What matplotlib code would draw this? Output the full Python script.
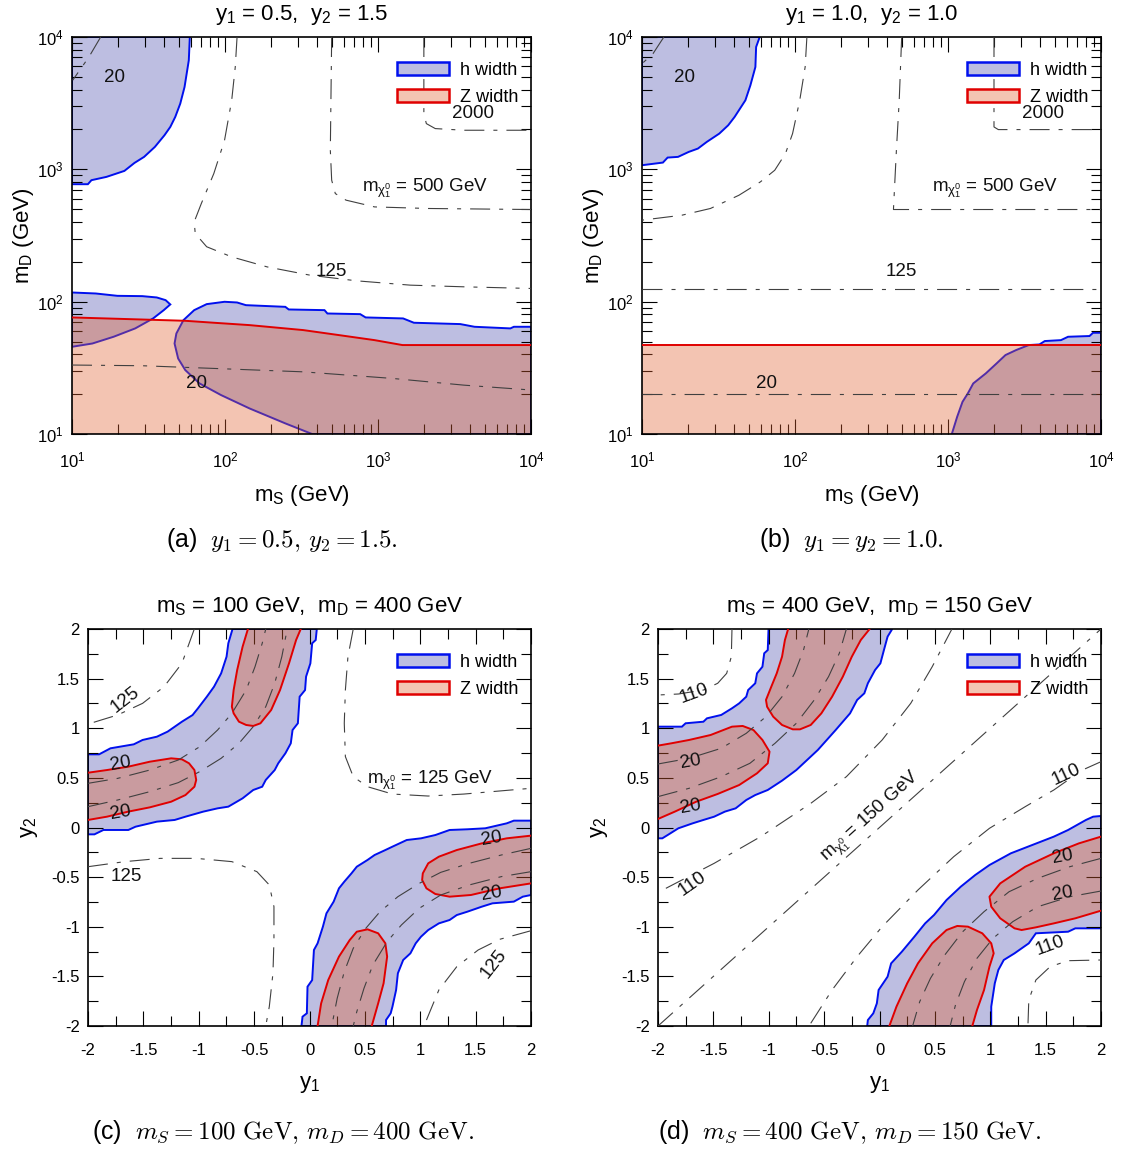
import numpy as np
import matplotlib
matplotlib.use("Agg")
import matplotlib.pyplot as plt
from matplotlib.patches import Patch
from matplotlib.ticker import FixedLocator, NullFormatter, FixedFormatter, MultipleLocator

plt.rcParams['font.family'] = ['Liberation Sans', 'DejaVu Sans']
plt.rcParams['mathtext.fontset'] = 'cm'
plt.rcParams['axes.unicode_minus'] = False
plt.rcParams['lines.scale_dashes'] = False

# ---------------- colours / styles ----------------
BLUE_FILL = '#bdbee1'
BLUE_EDGE = '#0010ee'
RED_FILL = (223 / 255, 96 / 255, 47 / 255)
RED_ALPHA = 0.37
RED_EDGE = '#e00000'
RED_LEG = '#f3c4b2'
CONT_COLOR = '#404040'
DASH = (0, (14.4, 6.5, 2.9, 6.5))

# ================= panel (a): y1=0.5, y2=1.5 =================
a_h1_x = [58.9, 58.0, 54.4, 51.0, 47.3, 43.9, 40.2, 34.8, 29.6, 25.6, 22.0, 16.8, 13.4, 12.7, 10]
a_h1_y = [1e4, 6668, 4190, 3138, 2489, 2091, 1809, 1477, 1242, 1118, 973, 877, 828, 772, 772]
a_h2_x = [10, 14.3, 19.8, 28.8, 35.8, 40.9, 43.9, 39.8, 33.9, 25.9, 18.7, 13.6, 10]
a_h2_y = [117.3, 115.3, 110.7, 110.1, 107.6, 102.7, 95.3, 86.3, 74.7, 62.8, 54.3, 48.3, 45.6]
a_h3_x = [370.7, 247.8, 144.7, 94.1, 68.2, 55.0, 49.4, 46.8, 48.1, 53.5, 62.9, 75.9, 99.3, 119.9,
          137, 247.8, 261, 447, 467, 765, 830, 1459, 1716, 3451, 4276, 7328, 7730, 1e4]
a_h3_y = [10, 12.03, 15.6, 19.7, 24.1, 30.4, 37.2, 48.3, 57.5, 72.5, 86.3, 95.8, 99.8, 98.6,
          94.1, 91.4, 87.3, 86.3, 81.4, 80.5, 76.0, 74.7, 69.3, 67.7, 64.6, 62.8, 64.6, 64.6]
a_z_x = [10, 55, 84.5, 144.7, 324, 555, 950, 1444, 1e4]
a_z_y = [76, 71.7, 69.3, 66.5, 61, 55.9, 51.2, 47, 47]

a_c20a_x = [15.4, 12.9, 10.1]
a_c20a_y = [1e4, 7063, 4710]
a_c125_x = [119.9, 116.7, 110.6, 99.3, 84.5, 70.0, 62.9, 63.9, 75.9, 110.6, 189, 360, 726, 1626, 3641, 1e4]
a_c125_y = [1e4, 5936, 3325, 1658, 929, 551, 401, 327, 260, 218, 183, 158.5, 143.7, 133.3, 129.5, 125.8]
a_c500_x = [498, 488, 498, 526, 618, 950, 2128, 1e4]
a_c500_y = [1e4, 1394, 828, 656, 585, 520, 506, 497]
a_c2000_x = [1994, 1994, 2070, 2368, 3641, 1e4]
a_c2000_y = [1e4, 2637, 2216, 2032, 1974, 1974]
a_c20b_x = [10, 28.8, 84.5, 324, 1243, 3641, 1e4]
a_c20b_y = [33.2, 32.8, 31.3, 29.5, 26.3, 23.4, 21.5]

# ================= panel (b): y1=y2=1.0 =================
b_h1_x = [58.8, 55.7, 55.1, 51.1, 47.4, 40.3, 36.6, 32.0, 26.5, 23.2, 20.2, 17.2, 14.7, 13.7, 10]
b_h1_y = [1e4, 8404, 5936, 4315, 3325, 2489, 2153, 1862, 1611, 1435, 1354, 1242, 1227, 1125, 1074]
b_h2_x = [1059, 1148, 1244, 1349, 1462, 1766, 2075, 2375, 2790, 3370, 3959, 4292, 5470, 6091, 8413, 8873, 1e4]
b_h2_y = [10, 13.5, 17.5, 20.3, 24.1, 28.7, 34.1, 39.5, 43.1, 47.0, 47.5, 50.4, 51.2, 54.3, 55.0, 58.2, 58.2]
b_z_x = [10, 1e4]
b_z_y = [47, 47]

b_c20a_x = [13.9, 11.8, 10]
b_c20a_y = [1e4, 7484, 6290]
b_cm_x = [119.6, 116.5, 107.4, 96.4, 86.6, 73.7, 59.4, 43.0, 28.0, 18.2, 10]
b_cm_y = [1e4, 5936, 3325, 1862, 1315, 984, 804, 637, 506, 450, 413]
b_c125_x = [10, 1e4]
b_c125_y = [123.6, 123.6]
b_c500_x = [498, 480, 460, 440, 1e4]
b_c500_y = [1e4, 3325, 1394, 497, 497]
b_c2000_x = [1998, 1998, 2132, 1e4]
b_c2000_y = [1e4, 2091, 1997, 1997]
b_c20b_x = [10, 1e4]
b_c20b_y = [19.9, 19.9]

# ================= panel (c): mS=100, mD=400 =================
c_h1_x = [-2, -1.90, -1.797, -1.587, -1.507, -1.378, -1.281, -1.152, -1.056, -1.007, -0.927, -0.862,
          -0.798, -0.749, -0.733, -0.695,
          0.066, 0.056, 0.024, 0.008, -0.031, -0.040, -0.089, -0.105, -0.153, -0.169, -0.218, -0.282,
          -0.314, -0.395, -0.427, -0.508, -0.604, -0.733, -0.830, -0.959, -1.120, -1.217, -1.378,
          -1.571, -1.636, -1.861, -1.942, -2]
c_h1_y = [0.737, 0.737, 0.798, 0.838, 0.882, 0.915, 0.966, 1.066, 1.133, 1.201, 1.318, 1.419,
          1.553, 1.721, 1.856, 2,
          2, 1.889, 1.856, 1.654, 1.520, 1.385, 1.318, 1.050, 0.982, 0.848, 0.747, 0.647,
          0.579, 0.479, 0.411, 0.378, 0.294, 0.210, 0.193, 0.160, 0.109, 0.076, 0.059,
          0.008, -0.025, -0.025, -0.069, -0.069]
c_h2_x = [-0.0725, -0.063, -0.024, -0.018, 0.024, 0.040, 0.073, 0.121, 0.153, 0.218, 0.266, 0.314,
          0.379, 0.427, 0.524, 0.588, 0.685, 0.749, 0.878, 1.007, 1.136, 1.265, 1.426, 1.587, 1.781,
          1.845, 2,
          2, 1.926, 1.845, 1.652, 1.555, 1.426, 1.330, 1.265, 1.168, 1.072, 1.007, 0.959, 0.911,
          0.846, 0.798, 0.782, 0.749, 0.733, 0.691, 0.691]
c_h2_y = [-2, -1.906, -1.872, -1.604, -1.537, -1.234, -1.167, -0.999, -0.865, -0.747, -0.613, -0.546,
          -0.462, -0.395, -0.327, -0.277, -0.227, -0.193, -0.126, -0.109, -0.076, -0.025, -0.018, -0.008, 0.042,
          0.069, 0.069,
          -0.680, -0.697, -0.747, -0.764, -0.798, -0.848, -0.882, -0.932, -0.966, -1.033, -1.100, -1.167, -1.268,
          -1.335, -1.469, -1.637, -1.805, -1.872, -1.940, -2]
c_z1_x = [-0.556, -0.604, -0.653, -0.685, -0.701, -0.685, -0.637, -0.572, -0.508, -0.443, -0.346, -0.266, -0.185, -0.121, -0.079]
c_z1_y = [2, 1.822, 1.587, 1.385, 1.217, 1.150, 1.066, 1.033, 1.023, 1.050, 1.184, 1.385, 1.654, 1.889, 2]
c_z2_x = [-2, -1.829, -1.636, -1.442, -1.249, -1.152, -1.088, -1.039, -1.023, -1.039, -1.120, -1.249, -1.442, -1.636, -1.829, -2]
c_z2_y = [0.552, 0.579, 0.613, 0.663, 0.697, 0.687, 0.647, 0.579, 0.479, 0.411, 0.327, 0.260, 0.203, 0.160, 0.109, 0.076]
c_z3_x = [2, 1.781, 1.555, 1.330, 1.168, 1.072, 1.023, 1.017, 1.056, 1.136, 1.265, 1.458, 1.716, 2]
c_z3_y = [-0.082, -0.109, -0.160, -0.227, -0.294, -0.361, -0.462, -0.529, -0.613, -0.670, -0.697, -0.680, -0.613, -0.563]
c_z4_x = [0.073, 0.105, 0.169, 0.266, 0.363, 0.427, 0.524, 0.620, 0.685, 0.701, 0.669, 0.620, 0.562]
c_z4_y = [-2, -1.772, -1.537, -1.301, -1.134, -1.050, -1.026, -1.066, -1.167, -1.301, -1.570, -1.772, -2]

c_c125a_x = [-1.948, -1.732, -1.507, -1.313, -1.152, -1.040]
c_c125a_y = [1.060, 1.134, 1.251, 1.419, 1.654, 2]
c_cm_x = [0.395, 0.347, 0.324, 0.314, 0.324, 0.395, 0.524, 0.749, 1.072, 1.394, 2]
c_cm_y = [2, 1.721, 1.385, 1.050, 0.714, 0.512, 0.411, 0.337, 0.317, 0.337, 0.395]
c_c125b_x = [-2, -1.668, -1.346, -1.023, -0.701, -0.475, -0.363, -0.321, -0.321, -0.330, -0.363, -0.395]
c_c125b_y = [-0.395, -0.344, -0.311, -0.311, -0.344, -0.445, -0.579, -0.798, -1.134, -1.469, -1.805, -2]
c_c125c_x = [1.056, 1.168, 1.330, 1.523, 1.716, 2]
c_c125c_y = [-1.940, -1.637, -1.402, -1.234, -1.127, -1.040]
c_c20a_x = [-2, -1.732, -1.442, -1.185, -0.991, -0.830, -0.701, -0.572, -0.492, -0.427, -0.395]
c_c20a_y = [0.445, 0.495, 0.579, 0.680, 0.814, 0.982, 1.150, 1.385, 1.620, 1.856, 2]
c_c20b_x = [-2, -1.732, -1.442, -1.185, -0.991, -0.798, -0.637, -0.508, -0.395, -0.314, -0.250, -0.201]
c_c20b_y = [0.210, 0.277, 0.361, 0.452, 0.563, 0.697, 0.848, 1.016, 1.217, 1.453, 1.721, 2]
c_c20c_x = [2, 1.732, 1.442, 1.185, 0.991, 0.830, 0.701, 0.572, 0.492, 0.427, 0.395]
c_c20c_y = [-0.445, -0.495, -0.579, -0.680, -0.814, -0.982, -1.150, -1.385, -1.620, -1.856, -2]
c_c20d_x = [2, 1.732, 1.442, 1.185, 0.991, 0.798, 0.637, 0.508, 0.395, 0.314, 0.250, 0.201]
c_c20d_y = [-0.210, -0.277, -0.361, -0.452, -0.563, -0.697, -0.848, -1.016, -1.217, -1.453, -1.721, -2]

# ================= panel (d): mS=400, mD=150 =================
d_h1_x = [-2, -1.784, -1.751, -1.590, -1.558, -1.429, -1.332, -1.267, -1.203, -1.186, -1.122, -1.106,
          -1.057, -1.041, -1.009, -1.002,
          0.115, 0.073, 0.040, 0.008, -0.040, -0.105, -0.137, -0.202, -0.266, -0.331, -0.396, -0.476,
          -0.557, -0.654, -0.751, -0.880, -1.009, -1.122, -1.203, -1.299, -1.396, -1.493, -1.590,
          -1.687, -1.816, -1.913, -1.961, -2]
d_h1_y = [1.016, 1.016, 1.050, 1.066, 1.100, 1.134, 1.201, 1.251, 1.318, 1.385, 1.453, 1.553,
          1.620, 1.755, 1.788, 2,
          2, 1.923, 1.788, 1.654, 1.587, 1.453, 1.352, 1.285, 1.150, 1.066, 0.982, 0.882,
          0.781, 0.680, 0.579, 0.472, 0.378, 0.327, 0.277, 0.193, 0.160, 0.109, 0.076,
          0.042, -0.008, -0.076, -0.109, -0.109]
d_h2_x = [-0.111, -0.105, -0.056, -0.024, -0.008, 0.073, 0.105, 0.202, 0.315, 0.412, 0.492, 0.605,
          0.734, 0.864, 0.993, 1.186, 1.380, 1.574, 1.703, 1.864, 1.929, 2,
          2, 1.768, 1.703, 1.412, 1.348, 1.219, 1.122, 1.073, 1.041, 1.009, 1.009]
d_h2_y = [-2, -1.940, -1.872, -1.772, -1.637, -1.503, -1.369, -1.251, -1.100, -0.966, -0.882, -0.731,
          -0.596, -0.479, -0.378, -0.260, -0.176, -0.092, -0.025, 0.076, 0.109, 0.116,
          -1.016, -1.016, -1.050, -1.066, -1.167, -1.268, -1.335, -1.436, -1.570, -1.805, -2]
d_z1_x = [-0.825, -0.854, -0.880, -0.928, -0.977, -1.025, -1.015, -0.960, -0.880, -0.783, -0.718,
          -0.621, -0.525, -0.428, -0.331, -0.250, -0.169, -0.089]
d_z1_y = [2, 1.889, 1.721, 1.553, 1.419, 1.285, 1.217, 1.117, 1.033, 0.989, 0.989,
          1.033, 1.150, 1.318, 1.520, 1.721, 1.889, 2]
d_z2_x = [-2, -1.881, -1.719, -1.525, -1.332, -1.235, -1.138, -1.057, -0.993, -1.009, -1.106, -1.267, -1.461, -1.655, -1.848, -2]
d_z2_y = [0.825, 0.848, 0.882, 0.932, 1.016, 1.023, 0.982, 0.882, 0.764, 0.647, 0.546, 0.428, 0.338, 0.260, 0.160, 0.086]
d_z3_x = [2, 1.800, 1.574, 1.316, 1.090, 0.993, 1.009, 1.090, 1.219, 1.283, 1.412, 1.574, 1.768, 2]
d_z3_y = [-0.092, -0.160, -0.260, -0.395, -0.563, -0.697, -0.798, -0.915, -1.016, -1.033, -1.006, -0.966, -0.915, -0.838]
d_z4_x = [0.089, 0.153, 0.250, 0.347, 0.476, 0.605, 0.702, 0.799, 0.928, 1.009, 1.031, 0.993, 0.944, 0.880, 0.838]
d_z4_y = [-2, -1.805, -1.570, -1.369, -1.167, -1.033, -0.992, -0.999, -1.066, -1.167, -1.268, -1.402, -1.637, -1.839, -2]

d_cm_x = [-2, 2]
d_cm_y = [-2, 2]
d_c110a_x = [-1.332, -1.338, -1.380, -1.461, -1.590, -1.816, -2]
d_c110a_y = [2, 1.721, 1.553, 1.453, 1.385, 1.345, 1.335]
d_c110b_x = [-1.929, -1.784, -1.493, -1.073, -0.621, -0.299, 0.024, 0.282, 0.476, 0.654]
d_c110b_y = [-0.613, -0.529, -0.361, -0.092, 0.243, 0.512, 0.882, 1.251, 1.620, 2]
d_c110c_x = [-0.621, -0.428, -0.202, 0.024, 0.347, 0.670, 0.993, 1.316, 1.574, 1.832, 2]
d_c110c_y = [-1.973, -1.637, -1.301, -0.999, -0.630, -0.294, -0.008, 0.210, 0.378, 0.579, 0.663]
d_c110d_x = [1.341, 1.348, 1.412, 1.541, 1.703, 2]
d_c110d_y = [-1.973, -1.738, -1.537, -1.402, -1.342, -1.335]
d_c20a_x = [-2, -1.719, -1.429, -1.203, -1.025, -0.880, -0.767, -0.686, -0.638]
d_c20a_y = [0.640, 0.697, 0.798, 0.949, 1.117, 1.318, 1.553, 1.788, 2]
d_c20b_x = [-2, -1.719, -1.429, -1.170, -0.944, -0.751, -0.589, -0.460, -0.363, -0.299]
d_c20b_y = [0.311, 0.395, 0.512, 0.647, 0.848, 1.050, 1.285, 1.520, 1.755, 2]
d_c20c_x = [2, 1.719, 1.429, 1.203, 1.025, 0.880, 0.767, 0.686, 0.638]
d_c20c_y = [-0.640, -0.697, -0.798, -0.949, -1.117, -1.318, -1.553, -1.788, -2]
d_c20d_x = [2, 1.719, 1.429, 1.170, 0.944, 0.751, 0.589, 0.460, 0.363, 0.299]
d_c20d_y = [-0.311, -0.395, -0.512, -0.647, -0.848, -1.050, -1.285, -1.520, -1.755, -2]

log_ticks = [10, 100, 1000, 10000]
log_labels = [r'$\mathregular{10^{1}}$', r'$\mathregular{10^{2}}$', r'$\mathregular{10^{3}}$', r'$\mathregular{10^{4}}$']
lin_ticks = [-2, -1.5, -1, -0.5, 0, 0.5, 1, 1.5, 2]
lin_labels = ['-2', '-1.5', '-1', '-0.5', '0', '0.5', '1', '1.5', '2']

TICKFS = 12
LABFS = 16
TITFS = 16
LEGFS = 13
CLABFS = 13.5
CAPFS = 18

fig = plt.figure(figsize=(11.21, 11.5), dpi=100)
W, H = 1121.0, 1150.0


def make_ax(l, r, t, b):
    return fig.add_axes([l / W, 1 - b / H, (r - l) / W, (b - t) / H])


def style_ax(ax, log):
    for s in ax.spines.values():
        s.set_linewidth(1.2)
    ax.tick_params(which='both', direction='in', top=True, right=True, labelsize=TICKFS)
    ax.tick_params(axis='x', which='both', pad=12)
    ax.tick_params(axis='y', which='both', pad=6)
    ax.tick_params(which='major', length=11, width=0.8)
    ax.tick_params(which='minor', length=7.5, width=0.8)
    if log:
        ax.set_xscale('log')
        ax.set_yscale('log')
        ax.set_xlim(10, 1e4)
        ax.set_ylim(10, 1e4)
        minors = [m * 10 ** e for e in range(1, 4) for m in range(2, 10)]
        for axis in (ax.xaxis, ax.yaxis):
            axis.set_major_locator(FixedLocator(log_ticks))
            axis.set_major_formatter(FixedFormatter(log_labels))
            axis.set_minor_locator(FixedLocator(minors))
            axis.set_minor_formatter(NullFormatter())
        ax.set_xlabel(r'$\mathregular{m_S}$ (GeV)', fontsize=LABFS, labelpad=9)
        ax.set_ylabel(r'$\mathregular{m_D}$ (GeV)', fontsize=LABFS, labelpad=1)
    else:
        ax.set_xlim(-2, 2)
        ax.set_ylim(-2, 2)
        for axis in (ax.xaxis, ax.yaxis):
            axis.set_major_locator(FixedLocator(lin_ticks))
            axis.set_major_formatter(FixedFormatter(lin_labels))
            axis.set_minor_locator(MultipleLocator(0.25))
        ax.set_xlabel(r'$\mathregular{y_1}$', fontsize=LABFS, labelpad=12)
        ax.set_ylabel(r'$\mathregular{y_2}$', fontsize=LABFS, labelpad=8)


def hregion(ax, xs, ys, extra_x=(), extra_y=()):
    px = list(xs) + list(extra_x)
    py = list(ys) + list(extra_y)
    ax.fill(px, py, facecolor=BLUE_FILL, edgecolor=BLUE_EDGE, linewidth=1.4, zorder=1)


def zregion(ax, xs, ys, extra_x=(), extra_y=()):
    px = list(xs) + list(extra_x)
    py = list(ys) + list(extra_y)
    ax.fill(px, py, facecolor=RED_FILL, alpha=RED_ALPHA, edgecolor='none', zorder=2)
    ax.plot(xs, ys, color=RED_EDGE, linewidth=1.4, zorder=3)


def cont(ax, xs, ys):
    ax.plot(xs, ys, color=CONT_COLOR, linewidth=0.8, linestyle=DASH, zorder=4)


def clabel(ax, x, y, s, rot=0, fs=CLABFS):
    ax.text(x, y, s, fontsize=fs, rotation=rot, ha='center', va='center', zorder=5, color='#111111')


def legend(ax):
    handles = [Patch(facecolor=BLUE_FILL, edgecolor=BLUE_EDGE, linewidth=1.8, label='h width'),
               Patch(facecolor=RED_LEG, edgecolor=RED_EDGE, linewidth=1.8, label='Z width')]
    ax.legend(handles=handles, loc='upper right', bbox_to_anchor=(1.0, 0.97), frameon=False,
              fontsize=LEGFS, handlelength=2.9, handleheight=0.8, labelspacing=0.55,
              handletextpad=0.6, borderaxespad=0.3)


# ---------------- panel (a) ----------------
ax = make_ax(72, 531, 37, 434)
style_ax(ax, True)
hregion(ax, a_h1_x, a_h1_y, [10], [1e4])
hregion(ax, a_h2_x, a_h2_y)
hregion(ax, a_h3_x, a_h3_y, [1e4], [10])
zregion(ax, a_z_x, a_z_y, [1e4, 10], [10, 10])
for cx, cy in [(a_c20a_x, a_c20a_y), (a_c125_x, a_c125_y), (a_c500_x, a_c500_y),
               (a_c2000_x, a_c2000_y), (a_c20b_x, a_c20b_y)]:
    cont(ax, cx, cy)
clabel(ax, 19.0, 4932, '20')
clabel(ax, 493, 168, '125')
clabel(ax, 2017, 716, r'$\mathregular{m_{\chi_1^0}}$ = 500 GeV')
clabel(ax, 4166, 2637, '2000')
clabel(ax, 65.3, 24.1, '20')
legend(ax)
ax.set_title(r'$\mathregular{y_1}$ = 0.5,  $\mathregular{y_2}$ = 1.5', fontsize=TITFS, pad=12)

# ---------------- panel (b) ----------------
ax = make_ax(642, 1101, 37, 434)
style_ax(ax, True)
hregion(ax, b_h1_x, b_h1_y, [10], [1e4])
hregion(ax, b_h2_x, b_h2_y, [1e4], [10])
zregion(ax, b_z_x, b_z_y, [1e4, 10], [10, 10])
for cx, cy in [(b_c20a_x, b_c20a_y), (b_cm_x, b_cm_y), (b_c125_x, b_c125_y), (b_c500_x, b_c500_y),
               (b_c2000_x, b_c2000_y), (b_c20b_x, b_c20b_y)]:
    cont(ax, cx, cy)
clabel(ax, 18.9, 4931, '20')
clabel(ax, 498, 168, '125')
clabel(ax, 2020, 716, r'$\mathregular{m_{\chi_1^0}}$ = 500 GeV')
clabel(ax, 4178, 2637, '2000')
clabel(ax, 65.5, 24.1, '20')
legend(ax)
ax.set_title(r'$\mathregular{y_1}$ = 1.0,  $\mathregular{y_2}$ = 1.0', fontsize=TITFS, pad=12)

# ---------------- panel (c) ----------------
ax = make_ax(88, 531, 629, 1026)
style_ax(ax, False)
hregion(ax, c_h1_x, c_h1_y)
hregion(ax, c_h2_x, c_h2_y)
for zx, zy in [(c_z1_x, c_z1_y), (c_z2_x, c_z2_y), (c_z3_x, c_z3_y), (c_z4_x, c_z4_y)]:
    zregion(ax, zx, zy)
for cx, cy in [(c_c125a_x, c_c125a_y), (c_cm_x, c_cm_y), (c_c125b_x, c_c125b_y), (c_c125c_x, c_c125c_y),
               (c_c20a_x, c_c20a_y), (c_c20b_x, c_c20b_y), (c_c20c_x, c_c20c_y), (c_c20d_x, c_c20d_y)]:
    cont(ax, cx, cy)
clabel(ax, -1.668, 1.285, '125', rot=38)
clabel(ax, 1.088, 0.472, r'$\mathregular{m_{\chi_1^0}}$ = 125 GeV')
clabel(ax, -1.652, -0.489, '125')
clabel(ax, 1.668, -1.369, '125', rot=52)
clabel(ax, -1.707, 0.647, '20', rot=10)
clabel(ax, -1.707, 0.149, '20', rot=10)
clabel(ax, 1.645, -0.109, '20', rot=10)
clabel(ax, 1.645, -0.663, '20', rot=10)
legend(ax)
ax.set_title(r'$\mathregular{m_S}$ = 100 GeV,  $\mathregular{m_D}$ = 400 GeV', fontsize=TITFS, pad=12)

# ---------------- panel (d) ----------------
ax = make_ax(658, 1101, 629, 1026)
style_ax(ax, False)
hregion(ax, d_h1_x, d_h1_y)
hregion(ax, d_h2_x, d_h2_y)
for zx, zy in [(d_z1_x, d_z1_y), (d_z2_x, d_z2_y), (d_z3_x, d_z3_y), (d_z4_x, d_z4_y)]:
    zregion(ax, zx, zy)
for cx, cy in [(d_cm_x, d_cm_y), (d_c110a_x, d_c110a_y), (d_c110b_x, d_c110b_y), (d_c110c_x, d_c110c_y),
               (d_c110d_x, d_c110d_y), (d_c20a_x, d_c20a_y), (d_c20b_x, d_c20b_y), (d_c20c_x, d_c20c_y),
               (d_c20d_x, d_c20d_y)]:
    cont(ax, cx, cy)
clabel(ax, -0.073, 0.109, r'$\mathregular{m_{\chi_1^0}}$ = 150 GeV', rot=42)
clabel(ax, -1.671, 1.345, '110', rot=20)
clabel(ax, -1.687, -0.563, '110', rot=35)
clabel(ax, 1.687, 0.529, '110', rot=25)
clabel(ax, 1.541, -1.194, '110', rot=20)
clabel(ax, -1.703, 0.663, '20', rot=10)
clabel(ax, -1.703, 0.210, '20', rot=10)
clabel(ax, 1.654, -0.294, '20', rot=10)
clabel(ax, 1.654, -0.663, '20', rot=10)
legend(ax)
ax.set_title(r'$\mathregular{m_S}$ = 400 GeV,  $\mathregular{m_D}$ = 150 GeV', fontsize=TITFS, pad=12)

# ---------------- captions ----------------
fig.text(282 / W, 1 - 540 / H, r'(a)  $y_1 = 0.5,\, y_2 = 1.5.$', ha='center', va='center', fontsize=CAPFS)
fig.text(851 / W, 1 - 540 / H, r'(b)  $y_1 = y_2 = 1.0.$', ha='center', va='center', fontsize=CAPFS)
fig.text(283 / W, 1 - 1132 / H, r'(c)  $m_S = 100\ \mathrm{GeV},\, m_D = 400\ \mathrm{GeV}.$',
         ha='center', va='center', fontsize=CAPFS)
fig.text(850 / W, 1 - 1132 / H, r'(d)  $m_S = 400\ \mathrm{GeV},\, m_D = 150\ \mathrm{GeV}.$',
         ha='center', va='center', fontsize=CAPFS)

fig.savefig('out.png', dpi=100)
